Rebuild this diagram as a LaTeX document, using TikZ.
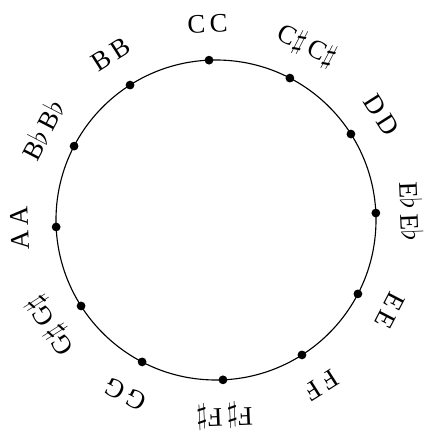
\documentclass[tikz,border=0pt]{standalone}
\usepackage{amsmath,amssymb}
\usepackage{fontspec}
\setmainfont{Liberation Serif}
\usepackage{tikz}
\usetikzlibrary{positioning}

\newcommand{\shp}{{\fontsize{22}{22}\selectfont$\sharp$}}
\newcommand{\flt}{{\fontsize{22}{22}\selectfont$\flat$}}

\tikzset{
  pitchdot/.style={circle,fill=black,inner sep=0pt,minimum size=2.2mm},
  pitchname/.style={inner sep=0pt,font=\fontsize{19}{22}\selectfont}
}

\begin{document}
\begin{tikzpicture}
 \useasboundingbox (-5.4,-5.35) rectangle (5.325,5.5);
 \draw[line width=0.8pt] (0,0) circle (4);
 \foreach \k/\nm in {0/C,1/{C\shp},2/D,3/{E\flt},4/E,5/F,6/{F\shp},7/G,8/{G\shp},9/A,10/{B\flt},11/B}{
  \pgfmathsetmacro\ang{92.5-30*\k}
  \node[pitchdot] (dot\k) at (\ang:4) {};
  \node[pitchname,rotate=\ang-90] (lbl\k) at (\ang:4.9) {\nm\,\nm};
 }
\end{tikzpicture}
\end{document}
